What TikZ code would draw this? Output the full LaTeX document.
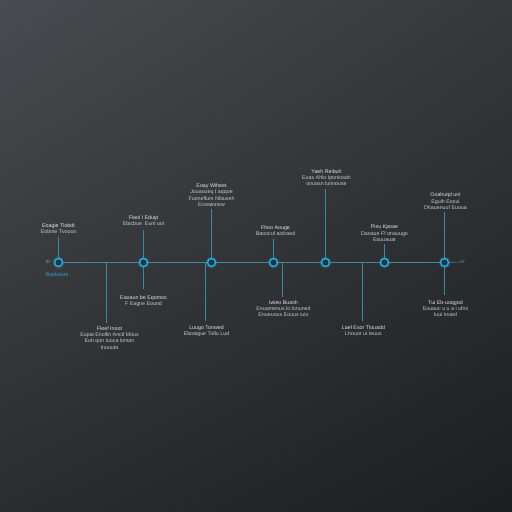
\documentclass[tikz,border=0pt]{standalone}
\usepackage{fontspec}
\setmainfont{Liberation Sans}
\usetikzlibrary{positioning,shadings}

\definecolor{bgtl}{HTML}{4A4B50}
\definecolor{bgtr}{HTML}{37383C}
\definecolor{bgbl}{HTML}{2B2C30}
\definecolor{bgbr}{HTML}{1D1E21}
\definecolor{tlline}{HTML}{3E88A2}
\definecolor{tlring}{HTML}{25B0E2}
\definecolor{tlcore}{HTML}{1C3542}
\definecolor{tltext}{HTML}{E2E4E6}
\definecolor{tlsub}{HTML}{C6C9CD}

\tikzset{
  evt/.style={circle, draw=tlring, fill=tlcore, line width=1.4pt, minimum size=8pt, inner sep=0pt},
  glow/.style={fill=tlring, opacity=0.18},
  stem/.style={draw=tlline, line width=1.5pt},
  lbl/.style={align=center, inner sep=0pt, text=tlsub, font=\fontsize{5.3}{6.2}\selectfont},
  tick/.style={inner sep=0pt, text=tlline!70!white, font=\fontsize{4.5}{5}\selectfont}
}

\begin{document}
\begin{tikzpicture}[x=1pt, y=1pt]

    \shade[upper left=bgtl, upper right=bgtr, lower left=bgbl, lower right=bgbr] (0,0) rectangle (512,-512);
    \useasboundingbox (0,0) rectangle (512,-512);

    % points on the line
    \coordinate (p1) at (58.5,-262.5);
    \coordinate (p2) at (143.5,-262.5);
    \coordinate (p3) at (211.5,-262.5);
    \coordinate (p4) at (273.5,-262.5);
    \coordinate (p5) at (325.5,-262.5);
    \coordinate (p6) at (384.5,-262.5);
    \coordinate (p7) at (444.5,-262.5);

    \coordinate (d1) at (106.5,-262.5);
    \coordinate (d2) at (205.5,-262.5);
    \coordinate (d3) at (282.5,-262.5);
    \coordinate (d4) at (362.5,-262.5);

    % stem ends
    \coordinate (u1) at (58.5,-237);
    \coordinate (u2) at (143.5,-230);
    \coordinate (u3) at (211.5,-209);
    \coordinate (u4) at (273.5,-239);
    \coordinate (u5) at (325.5,-189);
    \coordinate (u6) at (384.5,-244);
    \coordinate (u7) at (444.5,-212);

    \coordinate (b2) at (143.5,-289);
    \coordinate (b7) at (444.5,-295);
    \coordinate (d1b) at (106.5,-323);
    \coordinate (d2b) at (205.5,-321);
    \coordinate (d3b) at (282.5,-297);
    \coordinate (d4b) at (362.5,-321);

    \draw[stem] (p1) -- (p7);
    \draw[stem] (d1) -- (d1b);
    \draw[stem] (d2) -- (d2b);
    \draw[stem] (d3) -- (d3b);
    \draw[stem] (d4) -- (d4b);

    \foreach \i in {1,...,7} {
        \fill[glow] (p\i) circle (6pt);
        \node[evt] (e\i) at (p\i) {};
    }

    \draw[stem] (e1) -- (u1);
    \draw[stem] (e2) -- (u2);
    \draw[stem] (e3) -- (u3);
    \draw[stem] (e4) -- (u4);
    \draw[stem] (e5) -- (u5);
    \draw[stem] (e6) -- (u6);
    \draw[stem] (e7) -- (u7);
    \draw[stem] (e2) -- (b2);
    \draw[stem] (e7) -- (b7);

    % ends of the line
    \node[tick] (t0) at (48,-262) {t0};
    \node[tick] (t7) at (463,-262) {t7};
    \draw[tlline, line width=0.6pt] (e7) -- (t7.west);
    \node[tick, text=tlring!80!gray, font=\fontsize{5.3}{6}\selectfont] (f1) at (57,-275) {Rasfuture};

    % labels above
    \node[lbl, above=3pt of u1] (l1) {\textcolor{tltext}{Eoagie Tlobdt}\\Eobnie Tvouos};
    \node[lbl, above=4pt of u2] (l2) {\textcolor{tltext}{Fiaol I Eduip}\\Ebicbue\ \ Eunl uol};
    \node[lbl, above=2.5pt of u3] (l3) {\textcolor{tltext}{Eoay Wiheet}\\Jouaoueq I aqqoe\\Fuoneflum Nbiuseh\\Ecwainnew};
    \node[lbl, above=3pt of u4, xshift=2pt] (l4) {\textcolor{tltext}{Fhoo Aouge}\\Baoocuf aishaed};
    \node[lbl, above=3pt of u5, xshift=1pt] (l5) {\textcolor{tltext}{Yaeh Reibuh}\\Euas Ahlo Iponiosdn\\onuasn lunnouse};
    \node[lbl, above=2.5pt of u6] (l6) {\textcolor{tltext}{Pisu Kpoae}\\Daoaue Ff onauugo\\Eouuauar};
    \node[lbl, above=2.5pt of u7, xshift=1pt] (l7) {\textcolor{tltext}{Ooahutpl uni}\\Eguih Eosui\\Dhauenuuf Euoua};

    % labels below
    \node[lbl, below=6pt of b2] (m2) {\textcolor{tltext}{Eaoaun be Eqomos}\\F Eagne Eound};
    \node[lbl, below=5pt of b7, xshift=1pt] (m7) {\textcolor{tltext}{Tui Eb-uoqgod}\\Eouauc u u a i ufns\\Iuui Inued};
    \node[lbl, below=3.5pt of d1b, xshift=3pt] (n1) {\textcolor{tltext}{Fleef Inoot}\\Eupai Enollin Anctl Mitus\\Euh qon luoca loman\\Inuouta};
    \node[lbl, below=4pt of d2b, xshift=1pt] (n2) {\textcolor{tltext}{Luugo Tonwed}\\Eboaigue Tidlu Lud};
    \node[lbl, below=3.5pt of d3b, xshift=1pt] (n3) {\textcolor{tltext}{Iwieo Buash}\\Enuamenus lo lonuned\\Enueuous Eouus iuio};
    \node[lbl, below=4pt of d4b, xshift=1pt] (n4) {\textcolor{tltext}{Lael Esor Tlouadd}\\Lhouor ui Ieuus};

\end{tikzpicture}
\end{document}
